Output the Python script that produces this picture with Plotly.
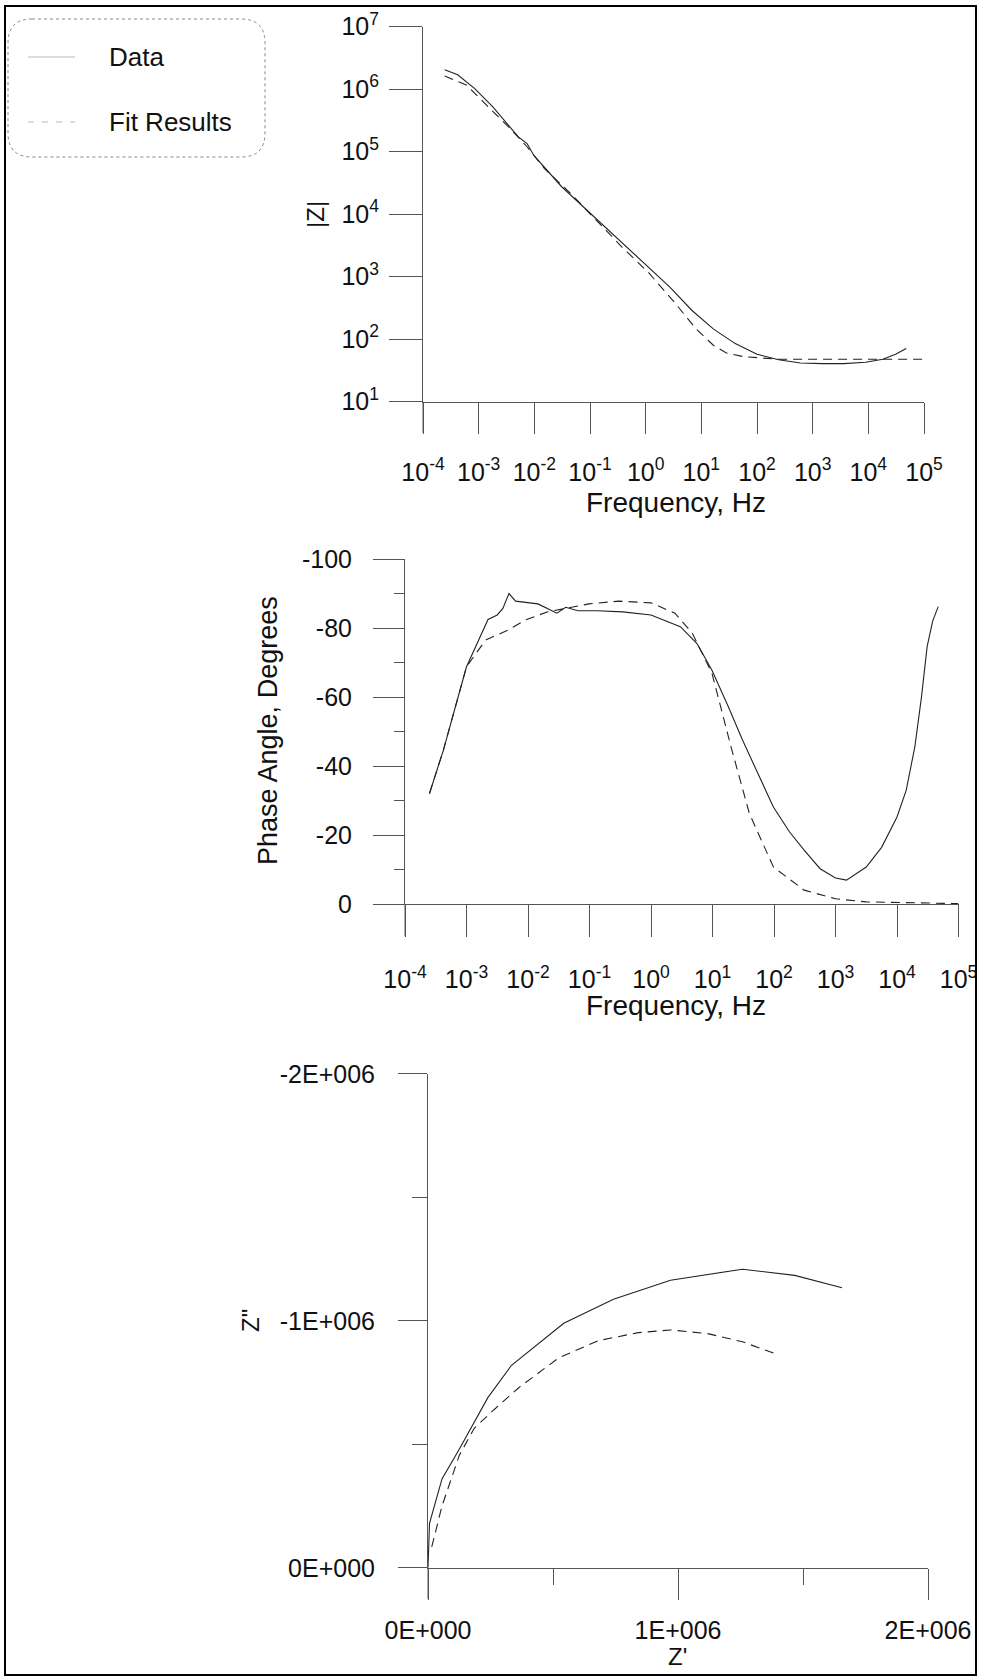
import plotly.graph_objects as go

W, H = 982, 1677
FONT = "Liberation Sans, Arial, Helvetica, sans-serif"
AX = "#555555"
LINE = "#222222"

# ---------------- data ----------------
# |Z| vs frequency
mag_freq_data = [2.45e-4, 4.2e-4, 8.5e-4, 1.78e-3, 3.6e-3, 5.1e-3, 7.4e-3, 9.8e-3, 3.1e-2, 7.6e-2,
                 0.186, 0.457, 1.12, 2.75, 6.8, 16.6, 40.7, 100, 245, 603, 1480, 3630, 8900,
                 1.82e4, 3.09e4, 4.79e4]
mag_data = [2.04e6, 1.70e6, 1.02e6, 5.25e5, 2.51e5, 1.74e5, 1.35e5, 8.7e4, 2.75e4, 1.32e4,
            6.2e3, 2.95e3, 1.41e3, 676, 288, 145, 85, 57.5, 46.8, 41.7, 40.7, 40.7, 42.7,
            47.9, 57.5, 70.8]
mag_freq_fit = [2.45e-4, 6.0e-4, 1.48e-3, 3.6e-3, 7.4e-3, 1.51e-2, 4.5e-2, 0.132, 0.38, 1.12,
                3.3, 8.1, 16.6, 28.2, 57.5, 245, 1480, 8900, 1.0e5]
mag_fit = [1.62e6, 1.17e6, 5.25e5, 2.4e5, 1.2e5, 5.4e4, 2.14e4, 7.9e3, 2.95e3, 1.17e3,
           389, 145, 79.4, 60.3, 52.5, 47.9, 47.9, 47.9, 47.9]

# phase angle vs frequency
ph_freq_data = [2.5e-4, 4.2e-4, 1.0e-3, 2.24e-3, 3.16e-3, 3.9e-3, 4.9e-3, 6.3e-3, 1.45e-2,
                2.95e-2, 4.1e-2, 6.5e-2, 0.135, 0.347, 1.0, 3.0, 5.6, 9.8, 17.8, 30.9, 56, 97.7,
                178, 309, 562, 1000, 1510, 3160, 5620, 1.0e4, 1.41e4, 1.95e4, 2.5e4, 3.09e4,
                3.8e4, 4.68e4]
ph_data = [-32.1, -44.6, -68.8, -82.5, -83.8, -85.7, -90.0, -87.8, -87.0, -84.3, -86.0, -85.0,
           -85.0, -84.7, -83.8, -80.4, -75.5, -67.8, -57.5, -47.5, -37.5, -28.2,
           -21.0, -15.7, -10.3, -7.6, -7.0, -10.8, -16.5, -25.3, -33.0, -45.6, -60.0, -74.6,
           -82.0, -86.2]
ph_freq_fit = [2.5e-4, 4.2e-4, 1.0e-3, 2.04e-3, 4.7e-3, 9.5e-3, 2.1e-2, 9.8e-2, 0.30, 1.0, 2.45,
               4.7, 9.8, 20, 39.8, 97.7, 309, 1000, 3160, 1.0e5]
ph_fit = [-32.1, -44.6, -68.8, -76.5, -79.4, -82.5, -84.7, -87.0, -87.8, -87.3, -84.3, -78.5,
          -66.9, -45.6, -26.3, -10.8, -4.1, -1.6, -0.7, -0.2]

# Nyquist
zre_data = [0, 6e3, 5.6e4, 1.25e5, 2.4e5, 3.34e5, 5.43e5, 7.42e5, 9.70e5, 1.258e6, 1.467e6, 1.656e6]
zim_data = [0, -1.8e5, -3.6e5, -4.8e5, -6.9e5, -8.2e5, -9.9e5, -1.087e6, -1.164e6, -1.209e6,
            -1.184e6, -1.134e6]
zre_fit = [1.5e4, 5.6e4, 1.25e5, 1.85e5, 2.64e5, 3.64e5, 5.23e5, 6.82e5, 8.41e5, 9.70e5,
           1.119e6, 1.258e6, 1.388e6]
zim_fit = [-8.5e4, -2.5e5, -4.55e5, -5.65e5, -6.4e5, -7.3e5, -8.5e5, -9.2e5, -9.52e5,
           -9.63e5, -9.48e5, -9.15e5, -8.67e5]

# tick labels
freq_tick_vals = [1e-4, 1e-3, 1e-2, 1e-1, 1e0, 1e1, 1e2, 1e3, 1e4, 1e5]
freq_tick_text = ["10<sup>-4</sup>", "10<sup>-3</sup>", "10<sup>-2</sup>", "10<sup>-1</sup>",
                  "10<sup>0</sup>", "10<sup>1</sup>", "10<sup>2</sup>", "10<sup>3</sup>",
                  "10<sup>4</sup>", "10<sup>5</sup>"]
mag_tick_vals = [1e1, 1e2, 1e3, 1e4, 1e5, 1e6, 1e7]
mag_tick_text = ["10<sup>1</sup>", "10<sup>2</sup>", "10<sup>3</sup>", "10<sup>4</sup>",
                 "10<sup>5</sup>", "10<sup>6</sup>", "10<sup>7</sup>"]
ph_tick_vals = [0, -20, -40, -60, -80, -100]
ph_tick_text = ["0", "-20", "-40", "-60", "-80", "-100"]
ph_minor_vals = [-10, -30, -50, -70, -90]
zre_tick_vals = [0, 1e6, 2e6]
zre_tick_text = ["0E+000", "1E+006", "2E+006"]
zre_minor_vals = [5e5, 1.5e6]
zim_tick_vals = [0, -1e6, -2e6]
zim_tick_text = ["0E+000", "-1E+006", "-2E+006"]
zim_minor_vals = [-5e5, -1.5e6]
legend_labels = ["Data", "Fit Results"]


def px(x):
    return x / W


def py(y):
    return 1 - y / H


fig = go.Figure()
solid = dict(color=LINE, width=1.1)
dashed = dict(color=LINE, width=1.1, dash="9px,6px")
fig.add_trace(go.Scatter(x=mag_freq_data, y=mag_data, mode="lines", line=solid, xaxis="x", yaxis="y"))
fig.add_trace(go.Scatter(x=mag_freq_fit, y=mag_fit, mode="lines", line=dashed, xaxis="x", yaxis="y"))
fig.add_trace(go.Scatter(x=ph_freq_data, y=ph_data, mode="lines", line=solid, xaxis="x2", yaxis="y2"))
fig.add_trace(go.Scatter(x=ph_freq_fit, y=ph_fit, mode="lines", line=dashed, xaxis="x2", yaxis="y2"))
fig.add_trace(go.Scatter(x=zre_data, y=zim_data, mode="lines", line=solid, xaxis="x3", yaxis="y3"))
fig.add_trace(go.Scatter(x=zre_fit, y=zim_fit, mode="lines", line=dashed, xaxis="x3", yaxis="y3"))

TF = dict(family=FONT, size=25, color="#111")
common = dict(showline=True, linecolor=AX, linewidth=1, ticks="outside", tickcolor=AX, tickwidth=1,
              showgrid=False, zeroline=False, tickfont=TF, tickmode="array", automargin=False)

P1 = dict(left=423, right=924, top=26.7, bottom=401.7)
P2 = dict(left=405, right=958.5, top=559, bottom=904.3)
P3 = dict(left=428, right=928, top=1073.8, bottom=1567.8)

fig.update_layout(
    width=W, height=H, margin=dict(l=0, r=0, t=0, b=0, pad=0, autoexpand=False),
    paper_bgcolor="white", plot_bgcolor="white", showlegend=False,
    xaxis=dict(common, type="log", range=[-4, 5], domain=[px(P1["left"]), px(P1["right"])],
               anchor="y", tickvals=freq_tick_vals, ticktext=freq_tick_text, ticklen=31,
               ticklabelstandoff=17),
    yaxis=dict(common, type="log", range=[1, 7], domain=[py(P1["bottom"]), py(P1["top"])],
               anchor="x", tickvals=mag_tick_vals, ticktext=mag_tick_text, ticklen=33,
               ticklabelstandoff=5),
    xaxis2=dict(common, type="log", range=[-4, 5], domain=[px(P2["left"]), px(P2["right"])],
                anchor="y2", tickvals=freq_tick_vals, ticktext=freq_tick_text, ticklen=32,
                ticklabelstandoff=21),
    yaxis2=dict(common, range=[0, -100], domain=[py(P2["bottom"]), py(P2["top"])],
                anchor="x2", tickvals=ph_tick_vals, ticktext=ph_tick_text, ticklen=31,
                ticklabelstandoff=16,
                minor=dict(tickmode="array", tickvals=ph_minor_vals, ticks="outside", ticklen=10,
                           tickcolor=AX, showgrid=False)),
    xaxis3=dict(common, range=[0, 2e6], domain=[px(P3["left"]), px(P3["right"])],
                anchor="y3", tickvals=zre_tick_vals, ticktext=zre_tick_text, ticklen=31,
                ticklabelstandoff=9,
                minor=dict(tickmode="array", tickvals=zre_minor_vals, ticks="outside", ticklen=16,
                           tickcolor=AX, showgrid=False)),
    yaxis3=dict(common, range=[0, -2e6], domain=[py(P3["bottom"]), py(P3["top"])],
                anchor="x3", tickvals=zim_tick_vals, ticktext=zim_tick_text, ticklen=29,
                ticklabelstandoff=18,
                minor=dict(tickmode="array", tickvals=zim_minor_vals, ticks="outside", ticklen=15,
                           tickcolor=AX, showgrid=False)),
)

shapes = []
# y-axis lines continuing below the x axis
for P, ext in ((P1, 31), (P2, 32), (P3, 31)):
    shapes.append(dict(type="line", xref="paper", yref="paper",
                       x0=px(P["left"]), x1=px(P["left"]), y0=py(P["bottom"]), y1=py(P["bottom"] + ext),
                       line=dict(color=AX, width=1)))

# outer frame
shapes.append(dict(type="rect", xref="paper", yref="paper", x0=px(5), x1=px(976), y0=py(6), y1=py(1675),
                   line=dict(color="black", width=2)))

# rounded legend box
lx0, lx1, ly0, ly1, r = 8, 265, 19, 157, 24
path = (f"M {px(lx0 + r)},{py(ly0)} L {px(lx1 - r)},{py(ly0)} "
        f"Q {px(lx1)},{py(ly0)} {px(lx1)},{py(ly0 + r)} L {px(lx1)},{py(ly1 - r)} "
        f"Q {px(lx1)},{py(ly1)} {px(lx1 - r)},{py(ly1)} L {px(lx0 + r)},{py(ly1)} "
        f"Q {px(lx0)},{py(ly1)} {px(lx0)},{py(ly1 - r)} L {px(lx0)},{py(ly0 + r)} "
        f"Q {px(lx0)},{py(ly0)} {px(lx0 + r)},{py(ly0)} Z")
shapes.append(dict(type="path", xref="paper", yref="paper", path=path,
                   line=dict(color="#888", width=1, dash="dot")))
# legend line samples
shapes.append(dict(type="line", xref="paper", yref="paper", x0=px(28), x1=px(75), y0=py(57), y1=py(57),
                   line=dict(color="#bbb", width=1)))
shapes.append(dict(type="line", xref="paper", yref="paper", x0=px(28), x1=px(75), y0=py(122), y1=py(122),
                   line=dict(color="#bbb", width=1, dash="6px,8px")))
fig.update_layout(shapes=shapes)

ann = []


def text(x, y, s, size=26, angle=0, xanchor="center"):
    ann.append(dict(xref="paper", yref="paper", x=px(x), y=py(y), text=s, showarrow=False,
                    xanchor=xanchor, yanchor="middle", textangle=angle,
                    font=dict(family=FONT, size=size, color="#111")))


text(676, 502, "Frequency, Hz", 28)
text(676, 1005, "Frequency, Hz", 28)
text(677, 1656, "Z'", 24)
text(316, 215, "|Z|", 24, angle=-90)
text(268, 731, "Phase Angle, Degrees", 27, angle=-90)
text(250, 1321, 'Z"', 24, angle=-90)
text(107, 57, legend_labels[0], 26, xanchor="left")
text(107, 122, legend_labels[1], 26, xanchor="left")
fig.update_layout(annotations=ann)

fig.write_html("out.html")
